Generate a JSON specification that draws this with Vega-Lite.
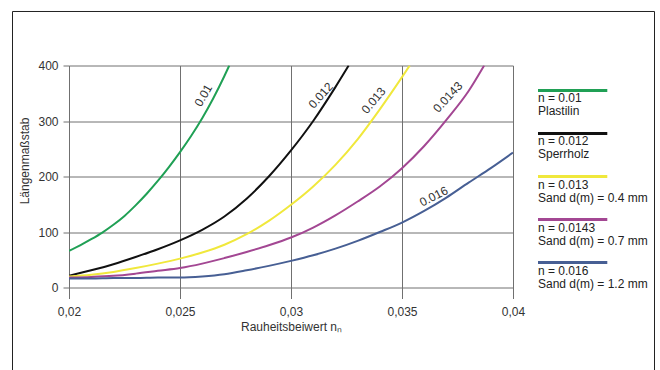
{
  "$schema": "https://vega.github.io/schema/vega-lite/v6.json",
  "padding": {"left": 12, "top": 10.5, "right": 0, "bottom": 0},
  "background": "white",
  "spacing": 25,
  "bounds": "flush",
  "resolve": {"scale": {"x": "independent", "y": "independent", "color": "shared"}},
  "config": {
    "font": "Liberation Sans",
    "view": {"stroke": null},
    "axis": {
      "gridColor": "#707070",
      "gridWidth": 1,
      "gridOpacity": 1,
      "tickColor": "#707070",
      "tickWidth": 1,
      "domain": false,
      "labelFontSize": 12,
      "labelColor": "#333333",
      "titleFontSize": 12,
      "titleFontWeight": "normal",
      "titleColor": "#333333",
      "labelFlush": false
    }
  },
  "datasets": {
    "curves": [
      {"n": "0.01", "x": 0.02, "y": 66},
      {"n": "0.01", "x": 0.0205, "y": 76},
      {"n": "0.01", "x": 0.021, "y": 87},
      {"n": "0.01", "x": 0.0215, "y": 99},
      {"n": "0.01", "x": 0.022, "y": 113},
      {"n": "0.01", "x": 0.0225, "y": 129},
      {"n": "0.01", "x": 0.023, "y": 148},
      {"n": "0.01", "x": 0.0235, "y": 169},
      {"n": "0.01", "x": 0.024, "y": 192},
      {"n": "0.01", "x": 0.0245, "y": 217},
      {"n": "0.01", "x": 0.025, "y": 244},
      {"n": "0.01", "x": 0.0255, "y": 273},
      {"n": "0.01", "x": 0.026, "y": 305},
      {"n": "0.01", "x": 0.0265, "y": 341},
      {"n": "0.01", "x": 0.027, "y": 381},
      {"n": "0.01", "x": 0.02722, "y": 400},
      {"n": "0.012", "x": 0.02, "y": 21},
      {"n": "0.012", "x": 0.021, "y": 31},
      {"n": "0.012", "x": 0.022, "y": 42},
      {"n": "0.012", "x": 0.023, "y": 55},
      {"n": "0.012", "x": 0.024, "y": 69},
      {"n": "0.012", "x": 0.025, "y": 85},
      {"n": "0.012", "x": 0.026, "y": 104},
      {"n": "0.012", "x": 0.027, "y": 128},
      {"n": "0.012", "x": 0.028, "y": 160},
      {"n": "0.012", "x": 0.029, "y": 200},
      {"n": "0.012", "x": 0.03, "y": 247},
      {"n": "0.012", "x": 0.031, "y": 300},
      {"n": "0.012", "x": 0.032, "y": 361},
      {"n": "0.012", "x": 0.0326, "y": 400},
      {"n": "0.013", "x": 0.02, "y": 20},
      {"n": "0.013", "x": 0.021, "y": 23},
      {"n": "0.013", "x": 0.022, "y": 28},
      {"n": "0.013", "x": 0.023, "y": 35},
      {"n": "0.013", "x": 0.024, "y": 43},
      {"n": "0.013", "x": 0.025, "y": 52},
      {"n": "0.013", "x": 0.026, "y": 63},
      {"n": "0.013", "x": 0.027, "y": 77},
      {"n": "0.013", "x": 0.028, "y": 96},
      {"n": "0.013", "x": 0.029, "y": 120},
      {"n": "0.013", "x": 0.03, "y": 149},
      {"n": "0.013", "x": 0.031, "y": 182},
      {"n": "0.013", "x": 0.032, "y": 221},
      {"n": "0.013", "x": 0.033, "y": 267},
      {"n": "0.013", "x": 0.034, "y": 321},
      {"n": "0.013", "x": 0.035, "y": 379},
      {"n": "0.013", "x": 0.03535, "y": 400},
      {"n": "0.0143", "x": 0.02, "y": 18},
      {"n": "0.0143", "x": 0.021, "y": 19},
      {"n": "0.0143", "x": 0.022, "y": 21},
      {"n": "0.0143", "x": 0.023, "y": 25},
      {"n": "0.0143", "x": 0.024, "y": 30},
      {"n": "0.0143", "x": 0.025, "y": 35},
      {"n": "0.0143", "x": 0.026, "y": 43},
      {"n": "0.0143", "x": 0.027, "y": 53},
      {"n": "0.0143", "x": 0.028, "y": 64},
      {"n": "0.0143", "x": 0.029, "y": 76},
      {"n": "0.0143", "x": 0.03, "y": 90},
      {"n": "0.0143", "x": 0.031, "y": 108},
      {"n": "0.0143", "x": 0.032, "y": 130},
      {"n": "0.0143", "x": 0.033, "y": 155},
      {"n": "0.0143", "x": 0.034, "y": 182},
      {"n": "0.0143", "x": 0.035, "y": 215},
      {"n": "0.0143", "x": 0.036, "y": 255},
      {"n": "0.0143", "x": 0.037, "y": 302},
      {"n": "0.0143", "x": 0.038, "y": 354},
      {"n": "0.0143", "x": 0.0387, "y": 400},
      {"n": "0.016", "x": 0.02, "y": 16},
      {"n": "0.016", "x": 0.021, "y": 16},
      {"n": "0.016", "x": 0.022, "y": 17},
      {"n": "0.016", "x": 0.023, "y": 17},
      {"n": "0.016", "x": 0.024, "y": 18},
      {"n": "0.016", "x": 0.025, "y": 18},
      {"n": "0.016", "x": 0.026, "y": 20},
      {"n": "0.016", "x": 0.027, "y": 24},
      {"n": "0.016", "x": 0.028, "y": 31},
      {"n": "0.016", "x": 0.029, "y": 39},
      {"n": "0.016", "x": 0.03, "y": 48},
      {"n": "0.016", "x": 0.031, "y": 58},
      {"n": "0.016", "x": 0.032, "y": 70},
      {"n": "0.016", "x": 0.033, "y": 84},
      {"n": "0.016", "x": 0.034, "y": 100},
      {"n": "0.016", "x": 0.035, "y": 117},
      {"n": "0.016", "x": 0.036, "y": 138},
      {"n": "0.016", "x": 0.037, "y": 162},
      {"n": "0.016", "x": 0.038, "y": 189},
      {"n": "0.016", "x": 0.039, "y": 215},
      {"n": "0.016", "x": 0.04, "y": 243}
    ],
    "curveLabels": [
      {"lab": "0.01", "x": 0.02605, "y": 346},
      {"lab": "0.012", "x": 0.03134, "y": 346},
      {"lab": "0.013", "x": 0.03372, "y": 337},
      {"lab": "0.0143", "x": 0.03706, "y": 343},
      {"lab": "0.016", "x": 0.03643, "y": 164}
    ],
    "legendItems": [
      {"n": "0.01", "label": "n = 0.01\nPlastilin"},
      {"n": "0.012", "label": "n = 0.012\nSperrholz"},
      {"n": "0.013", "label": "n = 0.013\nSand d(m) = 0.4 mm"},
      {"n": "0.0143", "label": "n = 0.0143\nSand d(m) = 0.7 mm"},
      {"n": "0.016", "label": "n = 0.016\nSand d(m) = 1.2 mm"}
    ]
  },
  "hconcat": [
    {
      "width": 444,
      "height": 222,
      "layer": [
        {
          "data": {"name": "curves"},
          "mark": {"type": "line", "strokeWidth": 2, "interpolate": "monotone", "clip": true},
          "encoding": {
            "x": {
              "field": "x", "type": "quantitative",
              "scale": {"domain": [0.02, 0.04], "nice": false, "zero": false},
              "axis": {
                "values": [0.02, 0.025, 0.03, 0.035, 0.04],
                "labelExpr": "replace(format(datum.value, '~g'), '.', ',')",
                "title": "Rauheitsbeiwert nₙ",
                "tickSize": 11,
                "labelPadding": 8,
                "titlePadding": 4
              }
            },
            "y": {
              "field": "y", "type": "quantitative",
              "scale": {"domain": [0, 400], "nice": false},
              "axis": {
                "values": [0, 100, 200, 300, 400],
                "title": "Längenmaßstab",
                "tickSize": 6,
                "labelPadding": 5,
                "titlePadding": 6,
                "titleY": 95
              }
            },
            "color": {
              "field": "n", "type": "nominal",
              "scale": {
                "domain": ["0.01", "0.012", "0.013", "0.0143", "0.016"],
                "range": ["#20a055", "#111111", "#f0e83c", "#a34793", "#475f94"]
              },
              "legend": null
            }
          }
        },
        {
          "data": {"name": "curveLabels"},
          "transform": [{"filter": "datum.lab === '0.01'"}],
          "mark": {"type": "text", "angle": -60, "fontSize": 12, "color": "#333333"},
          "encoding": {
            "x": {"field": "x", "type": "quantitative"},
            "y": {"field": "y", "type": "quantitative"},
            "text": {"field": "lab"}
          }
        },
        {
          "data": {"name": "curveLabels"},
          "transform": [{"filter": "datum.lab === '0.012'"}],
          "mark": {"type": "text", "angle": -48, "fontSize": 12, "color": "#333333"},
          "encoding": {
            "x": {"field": "x", "type": "quantitative"},
            "y": {"field": "y", "type": "quantitative"},
            "text": {"field": "lab"}
          }
        },
        {
          "data": {"name": "curveLabels"},
          "transform": [{"filter": "datum.lab === '0.013'"}],
          "mark": {"type": "text", "angle": -50, "fontSize": 12, "color": "#333333"},
          "encoding": {
            "x": {"field": "x", "type": "quantitative"},
            "y": {"field": "y", "type": "quantitative"},
            "text": {"field": "lab"}
          }
        },
        {
          "data": {"name": "curveLabels"},
          "transform": [{"filter": "datum.lab === '0.0143'"}],
          "mark": {"type": "text", "angle": -47, "fontSize": 12, "color": "#333333"},
          "encoding": {
            "x": {"field": "x", "type": "quantitative"},
            "y": {"field": "y", "type": "quantitative"},
            "text": {"field": "lab"}
          }
        },
        {
          "data": {"name": "curveLabels"},
          "transform": [{"filter": "datum.lab === '0.016'"}],
          "mark": {"type": "text", "angle": -27, "fontSize": 12, "color": "#333333"},
          "encoding": {
            "x": {"field": "x", "type": "quantitative"},
            "y": {"field": "y", "type": "quantitative"},
            "text": {"field": "lab"}
          }
        },
        {
          "data": {"values": [{}]},
          "mark": {"type": "rect", "filled": false, "stroke": "#222222", "strokeWidth": 1, "clip": false},
          "encoding": {
            "x": {"datum": 0.017455, "type": "quantitative"},
            "x2": {"datum": 0.046374},
            "y": {"datum": 497.3, "type": "quantitative"},
            "y2": {"datum": -168}
          }
        }
      ]
    },
    {
      "width": 110,
      "height": 222,
      "data": {"name": "legendItems"},
      "layer": [
        {
          "mark": {"type": "rule", "strokeWidth": 3},
          "encoding": {
            "x": {"datum": 0, "type": "quantitative", "scale": {"domain": [0, 1], "nice": false, "zero": false}, "axis": null},
            "x2": {"datum": 0.63},
            "y": {
              "field": "n", "type": "nominal",
              "scale": {"type": "point", "domain": ["0.01", "0.012", "0.013", "0.0143", "0.016"], "padding": 0.58},
              "axis": null
            },
            "color": {
              "field": "n", "type": "nominal",
              "scale": {
                "domain": ["0.01", "0.012", "0.013", "0.0143", "0.016"],
                "range": ["#20a055", "#111111", "#f0e83c", "#a34793", "#475f94"]
              },
              "legend": null
            }
          }
        },
        {
          "mark": {"type": "text", "align": "left", "baseline": "alphabetic", "dy": 12, "lineBreak": "\n", "lineHeight": 13, "fontSize": 12, "color": "#222222"},
          "encoding": {
            "x": {"datum": 0, "type": "quantitative"},
            "y": {"field": "n", "type": "nominal"},
            "text": {"field": "label"}
          }
        }
      ]
    }
  ]
}
